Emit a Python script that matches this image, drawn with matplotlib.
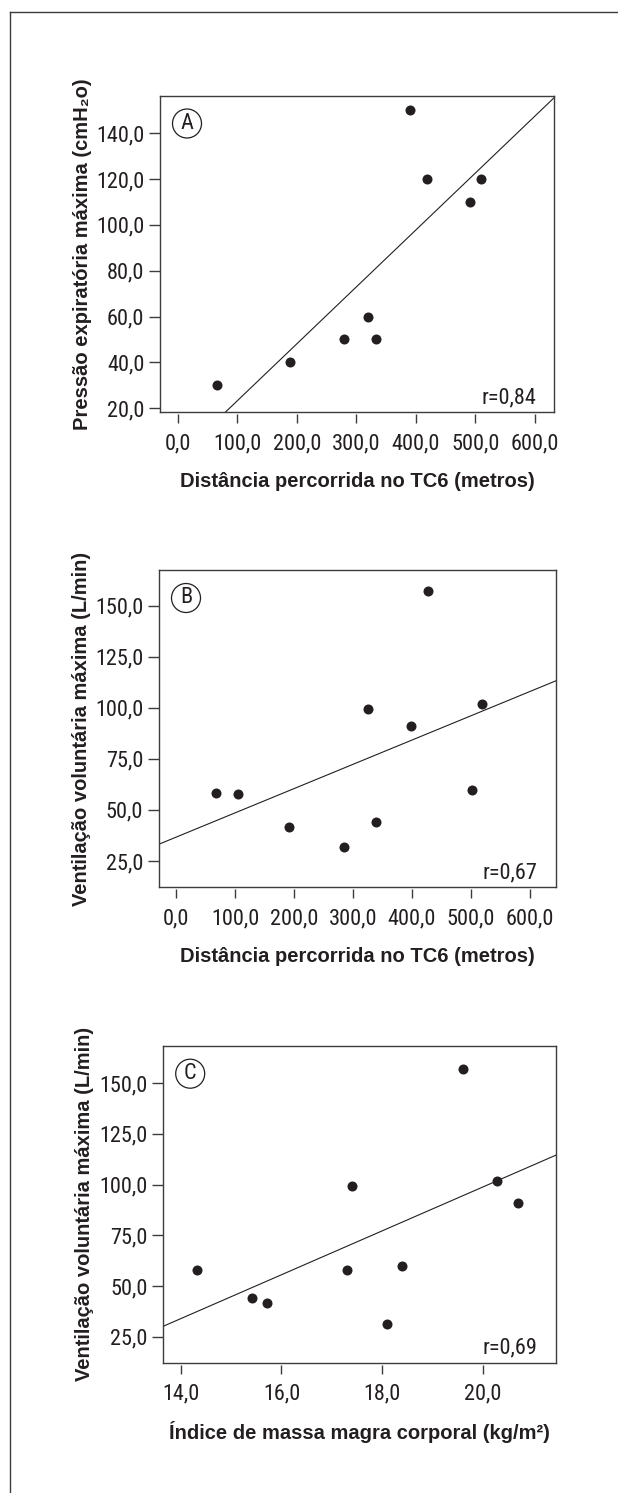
import numpy as np
import matplotlib
matplotlib.use('Agg')
import matplotlib.pyplot as plt
from matplotlib.lines import Line2D

# fonte condensada para números (estilo Helvetica Condensed)
plt.rcParams['font.family'] = ['Roboto Condensed', 'Archivo Narrow', 'Barlow Semi Condensed', 'DejaVu Sans']

# dados
dist_a = [66, 188, 280, 320, 333, 391, 419, 491, 509]
pem_a = [30, 40, 50, 60, 50, 150, 120, 110, 120]

dist_b = [67, 105, 191, 285, 326, 340, 399, 428, 502, 519]
vvm_b = [58.1, 57.8, 41.5, 31.7, 99.3, 43.9, 91.0, 157.2, 59.7, 101.7]

imm_c = [14.32, 15.41, 15.71, 17.30, 17.40, 18.10, 18.40, 19.60, 20.29, 20.69]
vvm_c = [57.9, 43.9, 41.4, 57.9, 99.5, 31.4, 59.9, 157.1, 101.8, 91.1]

ticks_dist = [0, 100, 200, 300, 400, 500, 600]
ticks_pem = [20, 40, 60, 80, 100, 120, 140]
ticks_vvm = [25, 50, 75, 100, 125, 150]
ticks_imm = [14, 16, 18, 20]

r_a, r_b, r_c = 'r=0,84', 'r=0,67', 'r=0,69'

W, H = 618, 1493
INK = '#231f20'
EDGE = '#3c3c3c'
LABEL_FONT = ['Liberation Sans', 'DejaVu Sans']
NUM_SIZE = 16

fig = plt.figure(figsize=(W / 100, H / 100), dpi=100)


def virgula(v):
    return f'{v:.1f}'.replace('.', ',')


def painel(box, x, y, xlim, ylim, xticks, yticks, letra, r_txt, ylabel, xlabel, ylab_x):
    l, t, r, b = box
    axw, axh = r - l, b - t
    ax = fig.add_axes([l / W, 1 - b / H, axw / W, axh / H])
    ax.scatter(x, y, s=52, color=INK, linewidths=0, zorder=3)
    coef = np.polyfit(x, y, 1)
    xx = np.array(xlim)
    ax.plot(xx, np.polyval(coef, xx), color=INK, lw=0.8)
    ax.set_xlim(xlim)
    ax.set_ylim(ylim)
    ax.set_xticks(xticks)
    ax.set_xticklabels([virgula(v) for v in xticks])
    ax.set_yticks(yticks)
    ax.set_yticklabels([virgula(v) for v in yticks])

    for s in ['left', 'right', 'top']:
        ax.spines[s].set_color(EDGE)
        ax.spines[s].set_linewidth(1.0)
    # eixo x afastado da moldura
    ax.spines['bottom'].set_position(('outward', 1.5))
    ax.spines['bottom'].set_visible(False)
    ax.plot([0, 1], [0, 0], transform=ax.transAxes, color=EDGE, lw=1.0, clip_on=False)

    ax.tick_params(axis='x', direction='out', length=6.5, width=1, pad=7.2,
                   labelsize=NUM_SIZE, color=EDGE, labelcolor=INK)
    ax.tick_params(axis='y', direction='out', length=7.7, width=1, pad=3.6,
                   labelsize=NUM_SIZE, color=EDGE, labelcolor=INK)

    ax.text(1 - 18 / axw, 9 / axh, r_txt, transform=ax.transAxes, ha='right',
            va='baseline', fontsize=NUM_SIZE, color=INK)
    ax.text(27 / axw, 1 - 28 / axh, letra, transform=ax.transAxes, ha='center',
            va='center', fontsize=NUM_SIZE, color=INK,
            bbox=dict(boxstyle='circle,pad=0.18', fc='white', ec=INK, lw=0.9))

    fig.text(ylab_x / W, 1 - (t + b) / 2 / H, ylabel, rotation=90, ha='center',
             va='center', fontsize=14.5, fontweight='bold', color=INK, family=LABEL_FONT)
    fig.text((l + r) / 2 / W, 1 - (b + 69) / H, xlabel, ha='center', va='center',
             fontsize=14.5, fontweight='bold', color=INK, family=LABEL_FONT)
    return ax


painel((160, 95.5, 554, 412.3), dist_a, pem_a, (-29.6, 632.1), (18.2, 156.5),
       ticks_dist, ticks_pem, 'A', r_a,
       'Pressão expiratória máxima (cmH₂o)', 'Distância percorrida no TC6 (metros)', 82.8)

painel((159, 570, 555.7, 887.3), dist_b, vvm_b, (-29.4, 644.5), (12.1, 167.4),
       ticks_dist, ticks_vvm, 'B', r_b,
       'Ventilação voluntária máxima (L/min)', 'Distância percorrida no TC6 (metros)', 81.2)

painel((163.2, 1045.7, 555.8, 1362.7), imm_c, vvm_c, (13.65, 21.45), (12.2, 168.5),
       ticks_imm, ticks_vvm, 'C', r_c,
       'Ventilação voluntária máxima (L/min)', 'Índice de massa magra corporal (kg/m²)', 84.7)

# moldura externa (só esquerda e topo)
fig.add_artist(Line2D([10 / W, 10 / W], [0, 1 - 12 / H], color=EDGE, lw=1.0))
fig.add_artist(Line2D([10 / W, 1], [1 - 12 / H, 1 - 12 / H], color=EDGE, lw=1.0))

fig.savefig('out.png', dpi=100)
